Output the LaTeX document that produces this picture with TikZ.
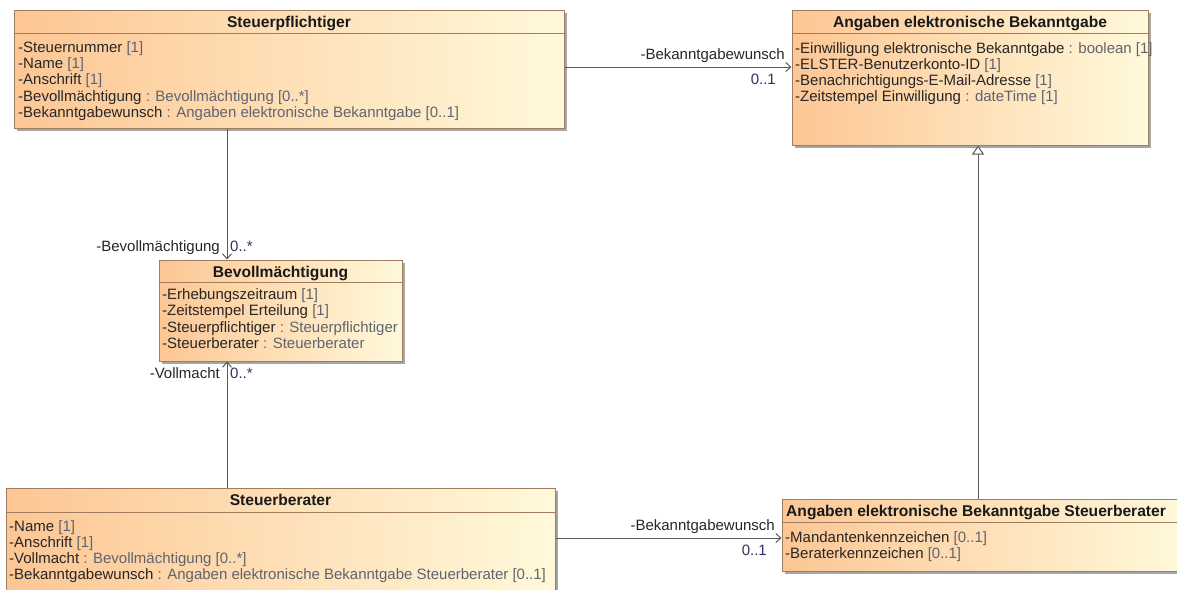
\documentclass[tikz,border=0pt]{standalone}
\usepackage{fontspec}
\setmainfont{Liberation Sans}
\usetikzlibrary{arrows.meta,shadows}
\definecolor{bordc}{RGB}{160,125,95}
\definecolor{lc}{RGB}{253,198,148}
\definecolor{rc}{RGB}{255,249,218}
\definecolor{typc}{RGB}{95,100,112}
\definecolor{linec}{RGB}{90,90,90}
\definecolor{multc}{RGB}{45,50,95}
\newcommand{\ty}[1]{\textcolor{typc}{#1}}
\newcommand{\attrlines}[5]{%
  \foreach \t [count=\i from 0] in {#5} {\node[attr] (#1\i) at (#2,{#3+\i*#4}) {\t};}}
\begin{document}
\begin{tikzpicture}[x=1pt,y=-1pt,
  classbox/.style={draw=bordc, line width=1pt, left color=lc, right color=rc, inner sep=0pt,
    drop shadow={shadow xshift=3pt,shadow yshift=-3pt,fill=black!35,opacity=1}},
  hdr/.style={font=\fontsize{15.6}{18}\selectfont\bfseries, text=black!90, inner sep=0pt},
  attr/.style={font=\fontsize{15}{16}\selectfont, text=black!85, anchor=base west, inner sep=0pt},
  lbl/.style={font=\fontsize{15}{16}\selectfont, text=black!85, inner sep=0pt},
  assoc/.style={draw=linec, line width=1pt, -{Straight Barb[length=5pt,width=9pt]}},
  gen/.style={draw=linec, line width=1pt, -{Triangle[length=9pt,width=12pt,fill=white]}},
  divline/.style={draw=bordc, line width=1pt}]
\useasboundingbox (0,0) rectangle (1177,589);
\clip (0,0) rectangle (1177,589);

% class boxes
\node[classbox, minimum width=550pt, minimum height=118pt] (sp) at (289,69) {};
\node[classbox, minimum width=356pt, minimum height=135pt] (aeb) at (970,77.5) {};
\node[classbox, minimum width=243pt, minimum height=101pt] (bev) at (280.5,310.5) {};
\node[classbox, minimum width=549pt, minimum height=112pt] (sb) at (280.5,544) {};
\node[classbox, minimum width=400pt, minimum height=72pt] (aebs) at (982,535) {};

% header dividers
\draw[divline] ([yshift=-24pt]sp.north west) -- ([yshift=-24pt]sp.north east);
\draw[divline] ([yshift=-24pt]aeb.north west) -- ([yshift=-24pt]aeb.north east);
\draw[divline] ([yshift=-23pt]bev.north west) -- ([yshift=-23pt]bev.north east);
\draw[divline] ([yshift=-25pt]sb.north west) -- ([yshift=-25pt]sb.north east);
\draw[divline] ([yshift=-24pt]aebs.north west) -- ([yshift=-24pt]aebs.north east);

% headers
\node[hdr, anchor=base] (sph) at (289,27.6) {Steuerpflichtiger};
\node[hdr, anchor=base] (aebh) at (970,27.6) {Angaben elektronische Bekanntgabe};
\node[hdr, anchor=base] (bevh) at (280.5,277.6) {Bevollmächtigung};
\node[hdr, anchor=base] (sbh) at (280.5,505.6) {Steuerberater};
\node[hdr, anchor=base west] (aebsh) at (786,516.6) {Angaben elektronische Bekanntgabe Steuerberater};

% attributes
\attrlines{spa}{18}{52.3}{16.25}{{-Steuernummer \ty{[1]}},{-Name \ty{[1]}},{-Anschrift \ty{[1]}},{-Bevollmächtigung \ty{: Bevollmächtigung [0..*]}},{-Bekanntgabewunsch \ty{: Angaben elektronische Bekanntgabe [0..1]}}}
\attrlines{aeba}{795}{53}{16.1}{{-Einwilligung elektronische Bekanntgabe \ty{: boolean [1]}},{-ELSTER-Benutzerkonto-ID \ty{[1]}},{-Benachrichtigungs-E-Mail-Adresse \ty{[1]}},{-Zeitstempel Einwilligung \ty{: dateTime [1]}}}
\attrlines{beva}{162}{299}{16.6}{{-Erhebungszeitraum \ty{[1]}},{-Zeitstempel Erteilung \ty{[1]}},{-Steuerpflichtiger \ty{: Steuerpflichtiger}},{-Steuerberater \ty{: Steuerberater}}}
\attrlines{sba}{9}{531.3}{16}{{-Name \ty{[1]}},{-Anschrift \ty{[1]}},{-Vollmacht \ty{: Bevollmächtigung [0..*]}},{-Bekanntgabewunsch \ty{: Angaben elektronische Bekanntgabe Steuerberater [0..1]}}}
\attrlines{aebsa}{785}{542.3}{16}{{-Mandantenkennzeichen \ty{[0..1]}},{-Beraterkennzeichen \ty{[0..1]}}}

% connectors
\coordinate (vx) at (227,0);
\coordinate (h1) at (0,67);
\coordinate (h2) at (0,538);
\coordinate (gx) at (978,0);
\draw[assoc] (sp.south -| vx) -- (bev.north -| vx);
\draw[assoc] (sb.north -| vx) -- (bev.south -| vx);
\draw[assoc] (sp.east |- h1) -- (aeb.west |- h1);
\draw[assoc] (sb.east |- h2) -- (aebs.west |- h2);
\draw[gen] (aebs.north -| gx) -- (aeb.south -| gx);

% connector labels
\node[lbl, anchor=base east] (l1) at (785,59) {-Bekanntgabewunsch};
\node[lbl, anchor=base east, text=multc] (m1) at (776,84) {0..1};
\node[lbl, anchor=base east] (l2) at (775,530) {-Bekanntgabewunsch};
\node[lbl, anchor=base east, text=multc] (m2) at (767,555) {0..1};
\node[lbl, anchor=base east] (l3) at (220,251) {-Bevollmächtigung};
\node[lbl, anchor=base west, text=multc] (m3) at (230,251) {0..*};
\node[lbl, anchor=base east] (l4) at (220,378) {-Vollmacht};
\node[lbl, anchor=base west, text=multc] (m4) at (230,378) {0..*};
\end{tikzpicture}
\end{document}
